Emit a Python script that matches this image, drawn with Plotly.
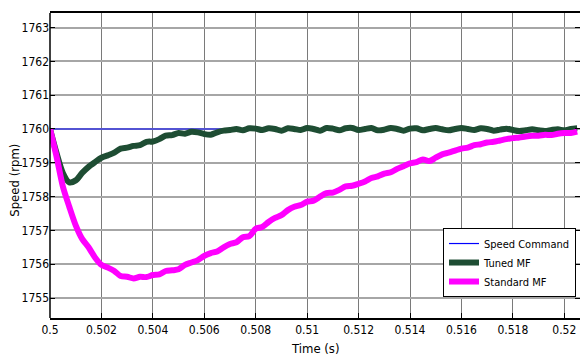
import numpy as np
import plotly.graph_objects as go

# time grid (s)
time_s = np.round(np.arange(83) * 0.00025 + 0.5, 6)

speed_command = [1760.0] * 83

tuned_mf = [
    1760.0, 1759.3, 1758.7, 1758.42, 1758.48, 1758.7, 1758.88, 1759.02, 1759.15, 1759.22,
    1759.3, 1759.42, 1759.45, 1759.5, 1759.52, 1759.62, 1759.63, 1759.7, 1759.8, 1759.82,
    1759.88, 1759.86, 1759.92, 1759.9, 1759.85, 1759.83, 1759.9, 1759.95, 1759.97, 1760.0,
    1759.96, 1760.02, 1760.01,
    1759.97, 1760.02, 1760.0, 1759.95, 1760.02, 1760.0, 1759.97, 1760.03, 1760.0, 1759.95,
    1760.03, 1760.01, 1759.96, 1760.02, 1760.03, 1759.97, 1760.0, 1760.03, 1759.96, 1759.98,
    1760.03, 1760.0, 1759.95, 1760.01, 1760.02, 1759.96, 1760.0, 1760.03, 1759.99, 1759.96,
    1760.0, 1760.03, 1760.0, 1759.97, 1760.02, 1760.0, 1759.95, 1759.98, 1760.01, 1759.97,
    1759.94, 1759.96, 1759.99, 1759.96, 1759.94, 1759.97, 1759.99, 1759.96, 1760.0, 1760.02,
]

standard_mf = [
    1760.0, 1759.2, 1758.3, 1757.7, 1757.15, 1756.75, 1756.5, 1756.2, 1755.98, 1755.9,
    1755.8, 1755.65, 1755.63, 1755.58, 1755.63, 1755.62, 1755.68, 1755.7, 1755.8, 1755.82,
    1755.85, 1755.98, 1756.05, 1756.12, 1756.25, 1756.33, 1756.38, 1756.5, 1756.6, 1756.65,
    1756.8, 1756.83, 1757.05, 1757.1, 1757.25, 1757.37, 1757.45, 1757.6, 1757.7, 1757.75,
    1757.85, 1757.88, 1758.0, 1758.1, 1758.12, 1758.2, 1758.3, 1758.32, 1758.38, 1758.45,
    1758.55, 1758.6, 1758.68, 1758.72, 1758.82, 1758.9, 1758.98, 1759.02, 1759.1, 1759.05,
    1759.15, 1759.25, 1759.3, 1759.36, 1759.42, 1759.45, 1759.52, 1759.55, 1759.6, 1759.62,
    1759.66, 1759.7, 1759.73, 1759.75, 1759.78, 1759.8, 1759.8, 1759.83, 1759.82, 1759.86,
    1759.88, 1759.88, 1759.92,
]

x_tickvals = [0.5, 0.502, 0.504, 0.506, 0.508, 0.51, 0.512, 0.514, 0.516, 0.518, 0.52]
x_ticktext = ["0.5", "0.502", "0.504", "0.506", "0.508", "0.51", "0.512", "0.514", "0.516", "0.518", "0.52"]
y_tickvals = [1755, 1756, 1757, 1758, 1759, 1760, 1761, 1762, 1763]

FONT = "DejaVu Sans Condensed, Liberation Sans Narrow, Liberation Sans, Arial, sans-serif"
y_range = [1754.41, 1763.43]
x_range = [0.5, 0.52061]

fig = go.Figure()
fig.add_trace(go.Scatter(x=time_s, y=speed_command, mode="lines", name="Speed Command",
                         line=dict(color="#0000ff", width=1.2)))
fig.add_trace(go.Scatter(x=time_s, y=tuned_mf, mode="lines", name="Tuned MF",
                         line=dict(color="#1e4d33", width=6, shape="spline", smoothing=0.8)))
fig.add_trace(go.Scatter(x=time_s, y=standard_mf, mode="lines", name="Standard MF",
                         line=dict(color="#ff00ff", width=6, shape="spline", smoothing=0.8)))

fig.update_layout(
    width=580, height=356,
    margin=dict(l=50, r=0, t=13, b=38),
    paper_bgcolor="white", plot_bgcolor="white",
    font=dict(family=FONT, size=12, color="black"),
    showlegend=True,
    legend=dict(x=0.9925, y=0.295, xanchor="right", yanchor="top",
                bordercolor="black", borderwidth=1, bgcolor="white",
                font=dict(family=FONT, size=11), tracegroupgap=0,
                itemwidth=30),
    xaxis=dict(range=x_range, tickvals=x_tickvals, ticktext=x_ticktext,
               automargin=False,
               showgrid=True, gridcolor="#7a7a7a", gridwidth=1,
               showline=True, linecolor="black", linewidth=1.5, mirror=True,
               ticks="inside", ticklen=5, tickcolor="black",
               zeroline=False),
    yaxis=dict(range=y_range, tickvals=y_tickvals, automargin=False,
               showgrid=True, gridcolor="#a6a6a6", gridwidth=1.6,
               showline=False, mirror="ticks",
               ticks="inside", ticklen=5, tickcolor="black",
               zeroline=False),
    shapes=[dict(type="line", xref="paper", yref="paper", x0=0, x1=0, y0=0, y1=1,
                 line=dict(color="black", width=1.5))],
    annotations=[
        dict(text="Time (s)", xref="paper", yref="paper", x=0.5, y=0, yshift=-30,
             xanchor="center", yanchor="middle", showarrow=False,
             font=dict(family=FONT, size=13)),
        dict(text="Speed (rpm)", xref="paper", yref="paper", x=0, y=0.45, xshift=-35,
             xanchor="center", yanchor="middle", showarrow=False, textangle=-90,
             font=dict(family=FONT, size=13)),
    ],
)

fig.write_html("out.html", config={"displayModeBar": False},
               post_script="document.body.style.margin='0px';document.body.style.padding='0px';")
